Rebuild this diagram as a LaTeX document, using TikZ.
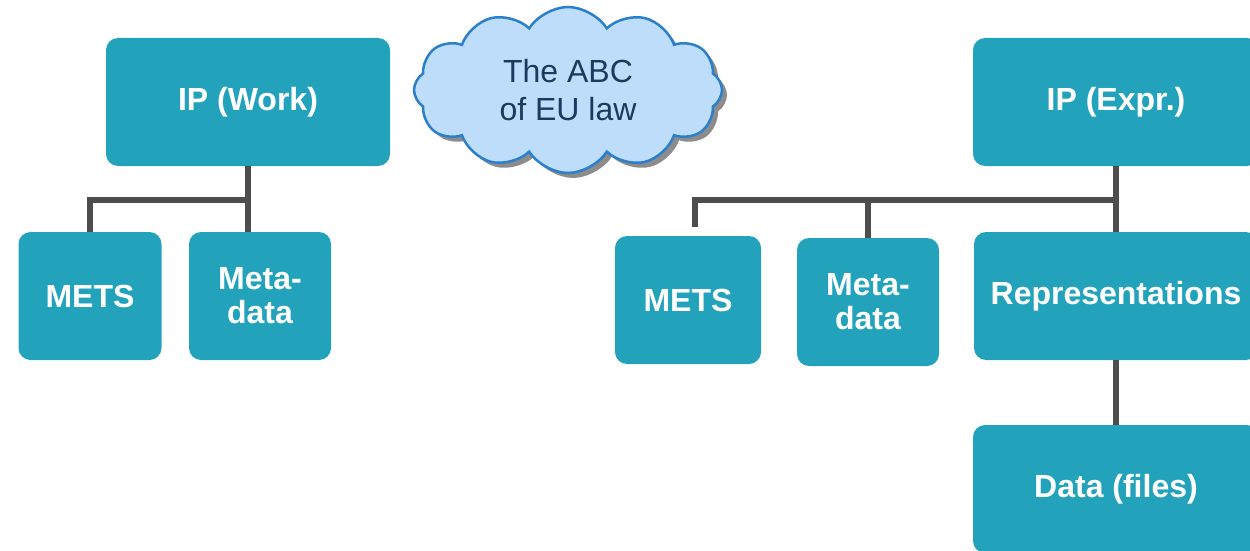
\documentclass[tikz,border=0pt]{standalone}
\usepackage{fontspec}
\setmainfont{Liberation Sans}
\usepackage{tikz}
\usetikzlibrary{shapes.symbols}
\usetikzlibrary{shadows}

\definecolor{boxteal}{HTML}{23A3BB}
\definecolor{linegray}{HTML}{4D4D4D}
\definecolor{cloudfill}{HTML}{BDDDFB}
\definecolor{cloudline}{HTML}{2B7FCB}
\definecolor{cloudtext}{HTML}{1B3A5E}

\begin{document}
\begin{tikzpicture}
[every node/.style={inner sep=0pt},
 box/.style={rectangle, rounded corners=12pt, fill=boxteal, text=white, align=center,
   font=\fontsize{32}{34}\selectfont\bfseries},
 conn/.style={line width=6pt, color=linegray}]
\useasboundingbox (0pt, 0pt) rectangle (1250pt, -551pt);
\clip (0pt, 0pt) rectangle (1250pt, -551pt);
\node (1) [box, minimum width=284pt, minimum height=128pt] at (248pt, -102pt) {IP (Work)};
\node (2) [box, minimum width=143pt, minimum height=128pt] at (90pt, -296pt) {METS};
\node (3) [box, minimum width=142pt, minimum height=128pt] at (260pt, -296pt) {Meta-\\data};
\node (4) [cloud, cloud puffs=12, cloud puff arc=115, aspect=1.9, minimum width=308pt, minimum height=166pt, fill=cloudfill, draw=cloudline, line width=2.5pt, text=cloudtext, align=center, font=\fontsize{32}{38}\selectfont, drop shadow={shadow xshift=5pt, shadow yshift=-5pt, fill=black!45, opacity=1}] at (568pt, -90pt) {The ABC\\of EU law};
\node (5) [box, minimum width=286pt, minimum height=128pt] at (1116pt, -102pt) {IP (Expr.)};
\node (6) [box, minimum width=146pt, minimum height=128pt] at (688pt, -300pt) {METS};
\node (7) [box, minimum width=142pt, minimum height=128pt] at (868pt, -302pt) {Meta-\\data};
\node (8) [box, minimum width=284pt, minimum height=128pt] at (1116pt, -296pt) {Representations};
\node (9) [box, minimum width=286pt, minimum height=128pt] at (1116pt, -489pt) {Data (files)};
\coordinate (a) at (248pt, -200pt);
\coordinate (b) at (1116pt, -200pt);
\draw [conn] (1.south) to (a);
\draw [conn] (a) -| (2.north);
\draw [conn] (a) to (a |- 3.north);
\draw [conn] (5.south) to (b);
\draw [conn, shorten >=9pt] (b) -| ([xshift=7pt]6.north);
\draw [conn] (b -| 7.north) to (7.north);
\draw [conn] (b) to (8.north);
\draw [conn] (8.south) to (9.north);
\end{tikzpicture}
\end{document}
